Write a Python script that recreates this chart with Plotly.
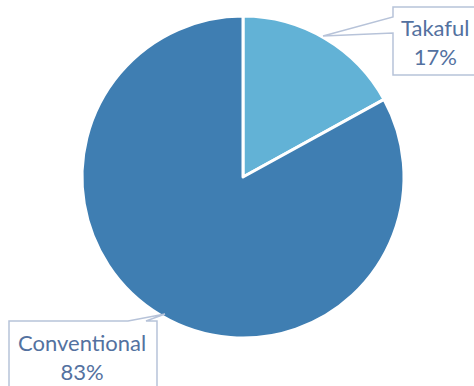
import plotly.graph_objects as go

labels = ["Takaful", "Conventional"]
values = [17, 83]
colors = ["#62B2D6", "#3F7EB2"]

W, H = 474, 386

def px(x):
    return x / W

def py(y):
    return 1 - y / H

def path(points):
    return "M " + " L ".join(f"{px(x):.5f},{py(y):.5f}" for x, y in points) + " Z"

fig = go.Figure(go.Pie(
    labels=labels, values=values, sort=False, direction="clockwise", rotation=0,
    marker=dict(colors=colors, line=dict(color="white", width=3)),
    textinfo="none", showlegend=False,
    domain=dict(x=[px(82), px(404)], y=[py(338), py(16)]),
))

total = sum(values)
line_col = "#B7C3D9"
text_col = "#5371A0"

callouts = [
    [(393, 7), (490, 7), (490, 75), (393, 75), (393, 33), (323, 36), (393, 17)],
    [(9, 321), (128, 321), (165, 314), (146, 321), (157, 321), (157, 400), (9, 400)],
]
centers = [(435, 42), (82, 357)]

for pts in callouts:
    fig.add_shape(type="path", path=path(pts), xref="paper", yref="paper",
                  fillcolor="white", line=dict(color=line_col, width=1.5), layer="above")

for lab, val, (cx, cy) in zip(labels, values, centers):
    fig.add_annotation(x=px(cx), y=py(cy), xref="paper", yref="paper",
                       text=f"{lab}<br>{round(100 * val / total)}%", showarrow=False,
                       font=dict(family="Lato", size=22, color=text_col),
                       xanchor="center", yanchor="middle")

fig.update_layout(width=W, height=H, margin=dict(l=0, r=0, t=0, b=0),
                  paper_bgcolor="white", plot_bgcolor="white")
fig.write_html("out.html")
